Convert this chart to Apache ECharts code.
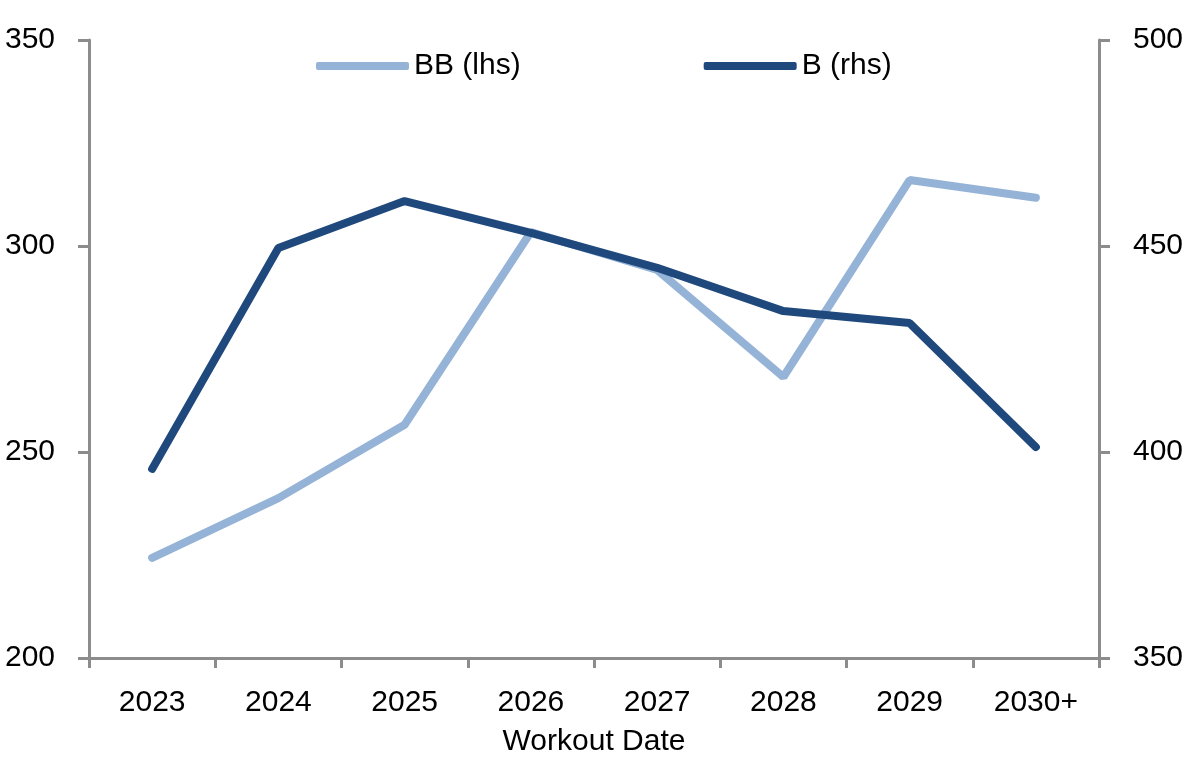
<!DOCTYPE html>
<html>
<head>
<meta charset="utf-8">
<script src="https://cdn.jsdelivr.net/npm/echarts@6/dist/echarts.min.js"></script>
<style>
html,body{margin:0;padding:0;background:#fff;}
#chart{width:1191px;height:770px;}
</style>
</head>
<body>
<div id="chart"></div>
<script>
const categories = ['2023','2024','2025','2026','2027','2028','2029','2030+'];
const bbValues = [224.3, 238.8, 256.6, 303.4, 294.2, 268.2, 316.0, 311.7];
const bValues = [395.9, 449.5, 460.9, 453.2, 444.7, 434.2, 431.3, 401.2];
const leftTicks = {min: 200, max: 350, interval: 50};
const rightTicks = {min: 350, max: 500, interval: 50};

const FONT = '"Liberation Sans", Arial, sans-serif';
const FS = 30;
const axisGray = '#8c8c8c';
const chart = echarts.init(document.getElementById('chart'));
const yAxisCommon = {
  type: 'value',
  splitLine: {show: false},
  axisLine: {show: true, lineStyle: {color: axisGray, width: 3}},
  axisTick: {show: true, length: 11, lineStyle: {color: axisGray, width: 3}},
  axisLabel: {color: '#000', fontSize: FS, fontFamily: FONT, margin: 34}
};
chart.setOption({
  animation: false,
  backgroundColor: '#fff',
  grid: {left: 89, right: 92, top: 40, bottom: 112, containLabel: false},
  legend: {
    top: 46, left: 311,
    itemWidth: 93, itemHeight: 8, itemGap: 183,
    icon: 'roundRect',
    textStyle: {color: '#000', fontSize: FS, fontFamily: FONT},
    data: ['BB (lhs)', 'B (rhs)']
  },
  xAxis: {
    type: 'category',
    data: categories,
    boundaryGap: true,
    name: 'Workout Date',
    nameLocation: 'middle',
    nameGap: 69,
    nameTextStyle: {color: '#000', fontSize: FS, fontFamily: FONT},
    axisLine: {show: true, onZero: false, lineStyle: {color: axisGray, width: 3}},
    axisTick: {show: true, length: 10, alignWithLabel: false, lineStyle: {color: axisGray, width: 3}},
    axisLabel: {color: '#000', fontSize: FS, fontFamily: FONT, margin: 30}
  },
  yAxis: [
    Object.assign({}, yAxisCommon, leftTicks, {position: 'left'}),
    Object.assign({}, yAxisCommon, rightTicks, {position: 'right'})
  ],
  series: [
    {name: 'BB (lhs)', type: 'line', yAxisIndex: 0, data: bbValues, symbol: 'none',
     lineStyle: {color: '#95b3d7', width: 8, cap: 'round'}, itemStyle: {color: '#95b3d7'}},
    {name: 'B (rhs)', type: 'line', yAxisIndex: 1, data: bValues, symbol: 'none',
     lineStyle: {color: '#1f497d', width: 8, cap: 'round'}, itemStyle: {color: '#1f497d'}}
  ]
});
</script>
</body>
</html>
